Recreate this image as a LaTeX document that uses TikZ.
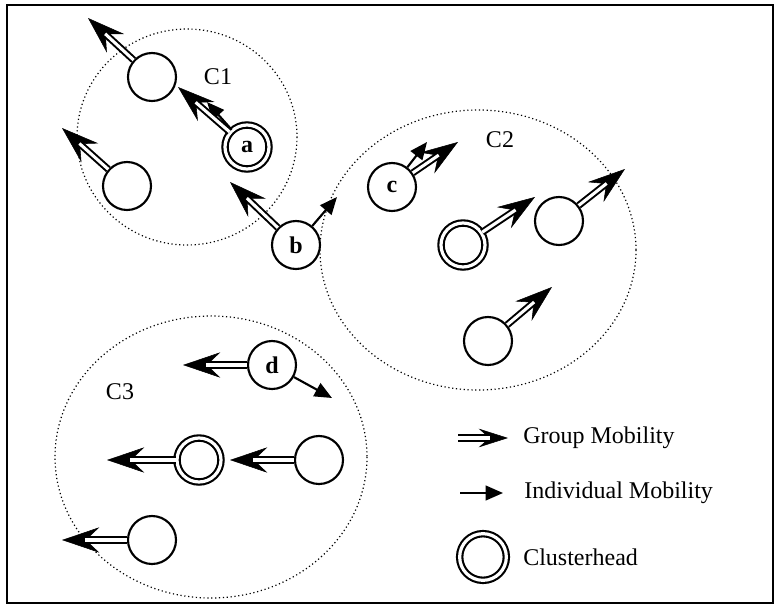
\documentclass[tikz,border=0pt]{standalone}
\usepackage{fontspec}
\setmainfont{Liberation Serif}
\usetikzlibrary{arrows.meta}
\newcommand\grpar[2]{%
  \draw[grptip] (#1) -- (#2);
  \draw[grpline] (#1) -- (#2);}
\begin{document}
\begin{tikzpicture}[x=0.75pt,y=-0.75pt,
  mnode/.style={circle,draw,line width=1.6pt,fill=white,minimum size=36pt,inner sep=0pt,font=\fontsize{18}{21}\selectfont\bfseries},
  chead/.style={circle,draw,line width=1.6pt,double,double distance=2.4pt,fill=white,minimum size=33pt,inner sep=0pt},
  grptip/.style={line width=0.4pt,-{Stealth[length=28pt,width=19pt,inset=10pt]}},
  grpline/.style={line width=1.5pt,double,double distance=2.3pt,shorten >=17.5pt},
  grptipS/.style={line width=0.4pt,-{Stealth[length=22pt,width=14pt,inset=8pt]}},
  grplineS/.style={line width=1.5pt,double,double distance=2.3pt,shorten >=13.5pt},
  ind/.style={line width=1.6pt,-{Triangle[length=13pt,width=11pt]}},
  clus/.style={line width=0.9pt,dash pattern=on 0.9pt off 2pt},
  lbl/.style={font=\fontsize{18}{21}\selectfont,inner sep=0pt}
]
\useasboundingbox (0,0) rectangle (776,607);
\draw[line width=1.8pt] (7,5) rectangle (773,603);

% clusters
\draw[clus] (187,137) ellipse [x radius=110, y radius=108];
\draw[clus] (478,250) ellipse [x radius=158, y radius=140];
\draw[clus] (211,457) ellipse [x radius=156, y radius=141];
\node[lbl] (c1) at (218,77) {C1};
\node[lbl] (c2) at (500,140) {C2};
\node[lbl] (c3) at (120,392) {C3};

% free ends
\coordinate (t1) at (88,18);
\coordinate (t2) at (62,128);
\coordinate (ta) at (178,87);
\coordinate (tai) at (207,102);
\coordinate (tb) at (230,182);
\coordinate (tbi) at (337,197);
\coordinate (tc) at (458,142);
\coordinate (tci) at (427,142);
\coordinate (th2) at (535,197);
\coordinate (tr2) at (625,169);
\coordinate (tb2) at (552,287);
\coordinate (td) at (183,365);
\coordinate (tdi) at (332,398);
\coordinate (th3) at (107,460);
\coordinate (tr3) at (230,460);
\coordinate (tb3) at (62,540);

% C1
\node[mnode] (n1) at (152,77) {};
\node[mnode] (n2) at (127,186) {};
\node[chead,font=\fontsize{18}{21}\selectfont\bfseries] (a) at (247,147) {a};
\node[mnode] (b) at (296,245) {b};
% C2
\node[mnode] (c) at (392,187) {c};
\node[chead] (h2) at (463,245) {};
\node[mnode] (r2) at (559,221) {};
\node[mnode] (b2) at (488,341) {};
% C3
\node[mnode] (d) at (272,365) {d};
\node[chead] (h3) at (199,460) {};
\node[mnode] (r3) at (319,460) {};
\node[mnode] (b3) at (152,540) {};

% arrows
\grpar{n1}{t1}
\grpar{n2}{t2}
\draw[ind] (a) -- (tai);
\grpar{a}{ta}
\grpar{b}{tb}
\draw[ind] (b) -- (tbi);
\draw[ind] (c) -- (tci);
\grpar{c}{tc}
\grpar{h2}{th2}
\grpar{r2}{tr2}
\grpar{b2}{tb2}
\grpar{d}{td}
\draw[ind] (d) -- (tdi);
\grpar{h3}{th3}
\grpar{r3}{tr3}
\grpar{b3}{tb3}

% legend
\coordinate (lg0) at (458,438);
\coordinate (lg1) at (508,438);
\draw[grptipS] (lg0) -- (lg1);
\draw[grplineS] (lg0) -- (lg1);
\node[lbl,anchor=west] (lgt) at (523,438) {Group Mobility};
\coordinate (li0) at (460,493);
\coordinate (li1) at (503,493);
\draw[ind] (li0) -- (li1);
\node[lbl,anchor=west] (lit) at (524,493) {Individual Mobility};
\node[chead,minimum size=35pt] (lh) at (483,557) {};
\node[lbl,anchor=west] (lht) at (523,557) {Clusterhead};
\end{tikzpicture}
\end{document}
